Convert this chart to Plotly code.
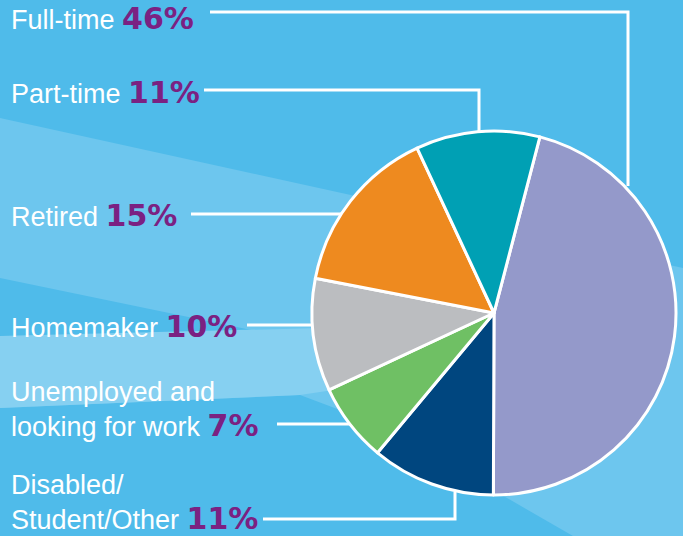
import plotly.graph_objects as go

W, H = 683, 536

# ---- data ----
categories = ["Full-time", "Disabled/Student/Other", "Unemployed and looking for work",
              "Homemaker", "Retired", "Part-time"]
shares = [46, 11, 7, 10, 15, 11]
slice_colors = ["#9499CA", "#00467F", "#6FC064", "#BBBDC0", "#EE8A1F", "#00A0B4"]

label_text = ["Full-time", "Part-time", "Retired", "Homemaker",
              "Unemployed and<br>looking for work", "Disabled/<br>Student/Other"]
label_share = [46, 11, 15, 10, 7, 11]

BASE = "#4FBBEA"
LIGHT_A = "#6DC6EE"
LIGHT_B = "#86D0F1"
PURPLE = "#7B2182"


def px(x, y):
    return x / W, 1 - y / H


def path(points):
    s = ""
    for i, (x, y) in enumerate(points):
        X, Y = px(x, y)
        s += ("M" if i == 0 else "L") + f"{X:.5f},{Y:.5f} "
    return s + "Z"


def poly_line(points):
    s = ""
    for i, (x, y) in enumerate(points):
        X, Y = px(x, y)
        s += ("M" if i == 0 else "L") + f"{X:.5f},{Y:.5f} "
    return s


cx, cy, r = 494, 313, 182

fig = go.Figure()
fig.add_trace(go.Pie(
    labels=categories, values=shares, sort=False, direction="clockwise",
    rotation=14.6, textinfo="none", hoverinfo="label+percent",
    marker=dict(colors=slice_colors, line=dict(color="white", width=3)),
    domain=dict(x=[(cx - r) / W, (cx + r) / W], y=[1 - (cy + r) / H, 1 - (cy - r) / H]),
    showlegend=False,
))

shapes = []
# background waves
shapes.append(dict(type="path", xref="paper", yref="paper", layer="below", line=dict(width=0),
                   fillcolor=LIGHT_A,
                   path=path([(0, 118), (683, 268), (683, 536), (573, 536), (507, 498),
                              (348, 413), (300, 395), (0, 408)])))
shapes.append(dict(type="path", xref="paper", yref="paper", layer="below", line=dict(width=0),
                   fillcolor=BASE,
                   path=path([(0, 278), (270, 334), (0, 336)])))
shapes.append(dict(type="path", xref="paper", yref="paper", layer="below", line=dict(width=0),
                   fillcolor=LIGHT_B,
                   path=path([(0, 336), (400, 326), (400, 380), (300, 395), (0, 408)])))

# leader lines
leaders = [
    [(210, 12), (628, 12), (628, 186)],
    [(204, 90), (479, 90), (479, 131)],
    [(191, 214), (342, 214)],
    [(247, 325), (313, 325)],
    [(277, 424), (351, 424)],
    [(263, 519), (455, 519), (455, 492)],
]
for pts in leaders:
    shapes.append(dict(type="path", xref="paper", yref="paper", layer="below",
                       line=dict(color="white", width=3), path=poly_line(pts)))

# label positions (vertical centre of text block)
label_y = [18, 93, 215, 326, 410, 503]
annotations = []
for txt, v, y in zip(label_text, label_share, label_y):
    X, Y = px(9, y)
    annotations.append(dict(
        x=X, y=Y, xref="paper", yref="paper", xanchor="left", yanchor="middle",
        showarrow=False, align="left",
        text=f"{txt} <span style='font-family:DejaVu Sans;font-weight:bold;color:{PURPLE};font-size:30px'>{v}%</span>",
        font=dict(family="Liberation Sans", size=27, color="white"),
    ))

fig.update_layout(
    width=W, height=H, margin=dict(l=0, r=0, t=0, b=0),
    paper_bgcolor=BASE, plot_bgcolor=BASE,
    shapes=shapes, annotations=annotations,
)

fig.write_html("out.html")
